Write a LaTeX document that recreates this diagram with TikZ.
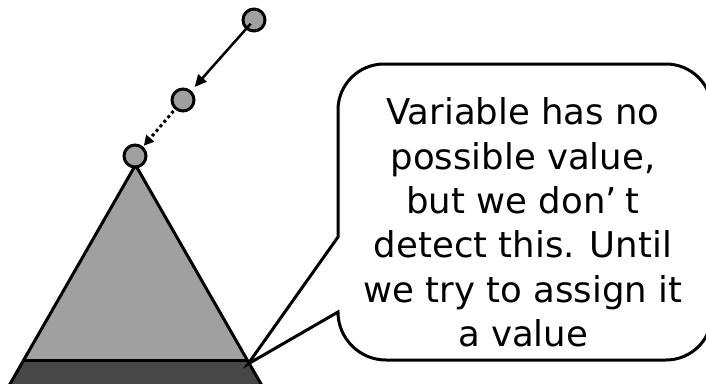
\documentclass[tikz,border=0pt]{standalone}
\usepackage{fontspec}
\newfontfamily\calfont{DejaVu Sans}
\usetikzlibrary{arrows.meta}
\definecolor{lightfill}{RGB}{160,160,160}
\definecolor{darkfill}{RGB}{71,71,71}
\begin{document}
\begin{tikzpicture}[x=1pt,y=-1pt,
  vnode/.style={circle,draw=black,fill=lightfill,line width=3pt,minimum size=22pt,inner sep=0pt},
  conn/.style={line width=2.5pt,-{Triangle[length=12pt,width=11pt]}},
  dotconn/.style={line width=3pt,dash pattern=on 3pt off 3pt,-{Triangle[length=10pt,width=10pt]}},
  outline/.style={line width=3pt,line join=miter},
  callout/.style={line width=3pt,fill=white,draw=black},
  msg/.style={font=\calfont\fontsize{35.5}{44.4}\selectfont,align=center,inner sep=0pt}]
\useasboundingbox (0,0) rectangle (706,383);
\clip (0,0) rectangle (706,383);
% triangle
\fill[lightfill] (135.5,165) -- (270.2,400) -- (0.8,400) -- cycle;
\fill[darkfill] (23.8,360) -- (247.2,360) -- (270.2,400) -- (0.8,400) -- cycle;
\draw[outline] (0.8,400) -- (135.5,165) -- (270.2,400);
\draw[outline] (23.8,360) -- (247.2,360);
% variables
\node[vnode] (c1) at (254,20) {};
\node[vnode] (c2) at (183,100) {};
\node[vnode] (c3) at (135,156) {};
\draw[conn,shorten <=5pt,shorten >=5pt] (c1.center) -- (c2);
\draw[dotconn,shorten <=2pt,shorten >=1pt] (c2) -- (c3);
% callout
\draw[callout] (338,237) -- (248,364) -- (338,312)
  arc[start angle=180,end angle=90,radius=48] -- (666,360)
  arc[start angle=90,end angle=0,radius=46] -- (712,110)
  arc[start angle=0,end angle=-90,radius=46] -- (384,64)
  arc[start angle=-90,end angle=-180,radius=46] -- cycle;
\node[msg] (msg) at (523,222.5) {Variable has no\\possible value,\\but we don’\hspace{0.25em}t\\detect this. Until\\we try to assign it\\a value};
\end{tikzpicture}
\end{document}
